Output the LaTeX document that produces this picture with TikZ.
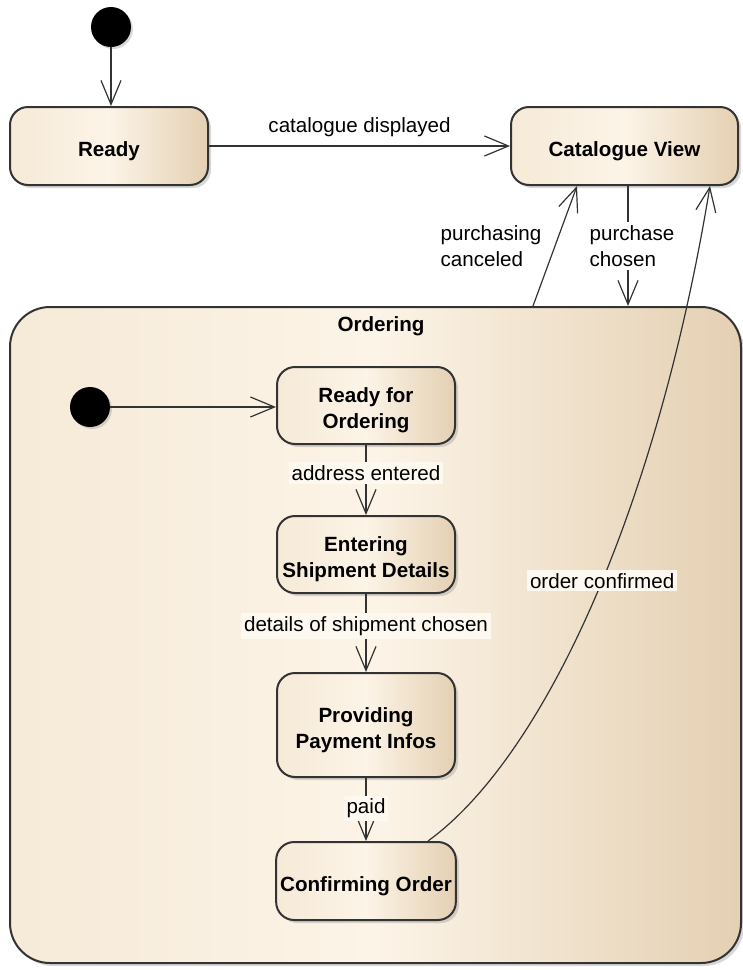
\documentclass[tikz,border=0pt]{standalone}
\usepackage{fontspec}
\setmainfont{Liberation Sans}
\usetikzlibrary{calc, shadows, arrows.meta}
\newcommand{\Px}{0.5pt}
\newcommand{\DiagramFont}{\fontsize{10.3}{13}\selectfont}
\newcommand{\Lift}{\rule{0pt}{12.5pt}}
\def\Chain{rfo/esd/address entered/0.40, esd/ppi/details of shipment chosen/0.41, ppi/co/paid/0.48}
\definecolor{StateLight}{HTML}{FCF4E7}
\definecolor{StateEdge}{HTML}{F6EAD8}
\definecolor{StateDark}{HTML}{E4D0B3}
\definecolor{LabelBack}{HTML}{FDF8F0}
\definecolor{LineGray}{HTML}{333333}
\tikzset{State/.style={
		draw=LineGray,
		line width=1pt,
		rounded corners=9pt,
		left color=StateEdge,
		right color=StateDark,
		middle color=StateLight,
		drop shadow={shadow xshift=1.5pt, shadow yshift=-1.5pt, opacity=0.3},
		align=center,
		inner sep=2pt,
		font=\DiagramFont\bfseries,
		minimum width=89pt,
		minimum height=38.5pt,
	},
	Start/.style={
		circle,
		fill=black,
		inner sep=0pt,
		minimum size=20pt,
		drop shadow={shadow xshift=1pt, shadow yshift=-1pt, opacity=0.3},
	},
	Trans/.style={
		draw=LineGray,
		line width=0.6pt,
		-{Straight Barb[length=12pt,width=10pt]},
	},
	TransLabel/.style={
		font=\DiagramFont,
		inner sep=1.5pt,
		align=left,
	}
}

\begin{document}
\begin{tikzpicture}[x=\Px, y=-\Px, font=\DiagramFont]
	\path[use as bounding box, fill=white] (0,0) rectangle (743,970);
	% composite state
	\node [State, rounded corners=20pt, minimum width=365.5pt, minimum height=328pt] (ordering) at (375.5,635) {};
	\node [font=\DiagramFont\bfseries] (orderingtitle) at (381,326) {Ordering};
	% states
	\node [Start] (start) at (111,27) {};
	\node [State, minimum width=99pt, minimum height=39pt] (ready) at (109,146) {\Lift Ready};
	\node [State, minimum width=113.5pt, minimum height=39pt] (catview) at (624.5,146) {\Lift Catalogue View};
	\node [Start] (istart) at (90,407) {};
	\node [State] (rfo) at (366,405.5) {\Lift Ready for\\Ordering};
	\node [State] (esd) at (366,554.5) {\Lift Entering\\Shipment Details};
	\node [State, minimum height=52pt] (ppi) at (366,725) {\Lift Providing\\Payment Infos};
	\node [State, minimum height=39pt] (co) at (366,881) {\Lift Confirming Order};
	% transitions
	\draw [Trans] (start) -- (start |- ready.north);
	\draw [Trans] (ready) -- node [TransLabel, above=3pt] {catalogue displayed} (catview);
	\draw [Trans] ($(ordering.north)+(157.5,0)$) -- node [TransLabel, left=5pt] {purchasing\\canceled} ($(catview.south)+(-47.5,0)$);
	\draw [Trans] ($(catview.south)+(3.5,0)$) -- node [TransLabel, fill=white, xshift=2pt] {purchase\\chosen} ($(ordering.north)+(252.5,0)$);
	\draw [Trans] (istart) -- (istart -| rfo.west);
	\foreach \From/\To/\Text/\Pos in \Chain {%
		\draw [Trans] (\From) -- node [TransLabel, fill=LabelBack, pos=\Pos] {\Text} (\To);
	}
	\draw [Trans] ($(co.north)+(62,0)$) .. controls (540,760) and (655,520) .. node [TransLabel, fill=LabelBack, pos=0.54] {order confirmed} ($(catview.south)+(85.5,0)$);
\end{tikzpicture}
\end{document}
